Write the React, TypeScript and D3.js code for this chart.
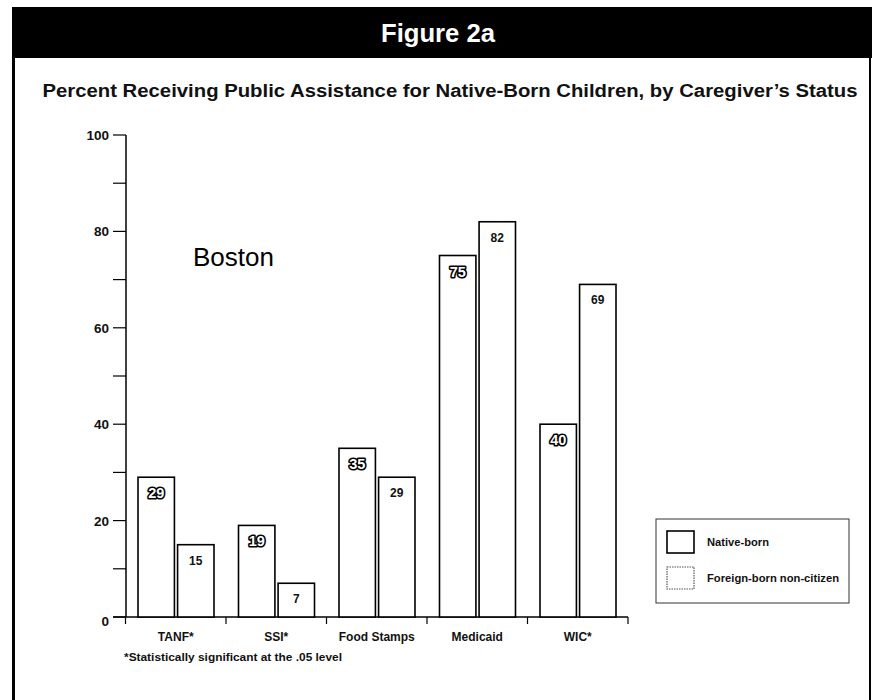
import React from "react";
import * as d3 from "d3";

// Public assistance receipt (%) for native-born children, Boston
const programs = ["TANF*", "SSI*", "Food Stamps", "Medicaid", "WIC*"];
const nativeBorn = [29, 19, 35, 75, 40];
const foreignBornNonCitizen = [15, 7, 29, 82, 69];
const seriesNames = ["Native-born", "Foreign-born non-citizen"];
const legendWidths = [62, 132];
const yTicks = [0, 10, 20, 30, 40, 50, 60, 70, 80, 90, 100];
const yLabels = [0, 20, 40, 60, 80, 100];

const W = 872;
const H = 700;
const sans = "'Liberation Sans', Arial, sans-serif";

export default function App() {
  const y = d3.scaleLinear().domain([0, 100]).range([617, 135]);
  const x = d3.scaleBand<string>().domain(programs).range([125.5, 628]).padding(0);
  const bw = x.bandwidth();
  const inner = d3
    .scaleBand<string>()
    .domain(seriesNames)
    .range([12.5, bw - 12])
    .paddingInner(0.08);
  const barW = inner.bandwidth();
  const boundaries = [...programs.map((p) => x(p) as number), 628];

  const rows = programs.map((p, i) => ({
    program: p,
    values: [nativeBorn[i], foreignBornNonCitizen[i]],
  }));

  return (
    <svg
      width={W}
      height={H}
      viewBox={`0 0 ${W} ${H}`}
      style={{ display: "block", position: "absolute", left: 0, top: 0, background: "#fff" }}
    >
      <rect x={0} y={0} width={W} height={H} fill="#fff" />
      {/* header band */}
      <rect x={12} y={7} width={W - 12} height={51} fill="#000" />
      <text
        x={438}
        y={42}
        textAnchor="middle"
        fill="#fff"
        fontFamily={sans}
        fontWeight="bold"
        fontSize={26}
        textLength={114}
        lengthAdjust="spacingAndGlyphs"
      >
        Figure 2a
      </text>
      {/* frame sides */}
      <line x1={13.5} x2={13.5} y1={58} y2={H} stroke="#000" strokeWidth={3} />
      <line x1={870} x2={870} y1={58} y2={H} stroke="#000" strokeWidth={2} />

      {/* title */}
      <text
        x={450}
        y={97}
        textAnchor="middle"
        fontFamily={sans}
        fontWeight="bold"
        fontSize={18}
        fill="#111"
        textLength={815}
        lengthAdjust="spacingAndGlyphs"
      >
        Percent Receiving Public Assistance for Native-Born Children, by Caregiver’s Status
      </text>

      {/* y axis */}
      <line x1={126} x2={126} y1={y(100)} y2={y(0)} stroke="#000" strokeWidth={1.5} />
      {yTicks.map((t) => (
        <line key={t} x1={113} x2={126} y1={y(t)} y2={y(t)} stroke="#000" strokeWidth={1.2} />
      ))}
      {yLabels.map((t) => (
        <text
          key={t}
          x={109}
          y={y(t) + (t === 0 ? 9 : 5)}
          textAnchor="end"
          fontFamily={sans}
          fontWeight="bold"
          fontSize={13.5}
          fill="#111"
        >
          {t}
        </text>
      ))}

      {/* x axis */}
      <line x1={113} x2={628} y1={y(0)} y2={y(0)} stroke="#000" strokeWidth={1.5} />
      {boundaries.map((b, i) => (
        <line key={i} x1={b} x2={b} y1={y(0)} y2={y(0) + 7} stroke="#000" strokeWidth={1.2} />
      ))}
      {programs.map((p) => (
        <text
          key={p}
          x={(x(p) as number) + bw / 2}
          y={641}
          textAnchor="middle"
          fontFamily={sans}
          fontWeight="bold"
          fontSize={12}
          fill="#111"
        >
          {p}
        </text>
      ))}

      {/* bars */}
      {rows.map((r) =>
        r.values.map((v, si) => {
          const bx = (x(r.program) as number) + (inner(seriesNames[si]) as number);
          const top = y(v);
          const cx = bx + barW / 2;
          return (
            <g key={r.program + si}>
              <rect
                x={bx}
                y={top}
                width={barW}
                height={y(0) - top}
                fill="#fff"
                stroke="#000"
                strokeWidth={1.6}
              />
              {si === 0 ? (
                <text
                  x={cx}
                  y={top + 21}
                  textAnchor="middle"
                  fontFamily={sans}
                  fontWeight="bold"
                  fontSize={14.5}
                  fill="#fff"
                  stroke="#000"
                  strokeWidth={3.2}
                  paintOrder="stroke"
                  strokeLinejoin="round"
                >
                  {v}
                </text>
              ) : (
                <text
                  x={cx}
                  y={top + 20}
                  textAnchor="middle"
                  fontFamily={sans}
                  fontWeight="bold"
                  fontSize={12}
                  fill="#111"
                >
                  {v}
                </text>
              )}
            </g>
          );
        })
      )}

      {/* city label */}
      <text x={193} y={266} fontFamily={sans} fontSize={26} fill="#000">
        Boston
      </text>

      {/* legend */}
      <rect x={656} y={519} width={193} height={84} fill="#fff" stroke="#333" strokeWidth={1} />
      {seriesNames.map((s, i) => (
        <g key={s}>
          <rect
            x={667}
            y={531 + i * 36}
            width={27}
            height={22}
            fill="#fff"
            stroke={i === 0 ? "#000" : "#555"}
            strokeWidth={i === 0 ? 1.6 : 1.2}
            strokeDasharray={i === 0 ? undefined : "1.5 1"}
          />
          <text
            x={707}
            y={546 + i * 36}
            fontFamily={sans}
            fontWeight="bold"
            fontSize={11.5}
            fill="#111"
            textLength={legendWidths[i]}
            lengthAdjust="spacingAndGlyphs"
          >
            {s}
          </text>
        </g>
      ))}

      {/* footnote */}
      <text
        x={124}
        y={661}
        fontFamily={sans}
        fontWeight="bold"
        fontSize={10}
        fill="#111"
        textLength={218}
        lengthAdjust="spacingAndGlyphs"
      >
        *Statistically significant at the .05 level
      </text>
    </svg>
  );
}
